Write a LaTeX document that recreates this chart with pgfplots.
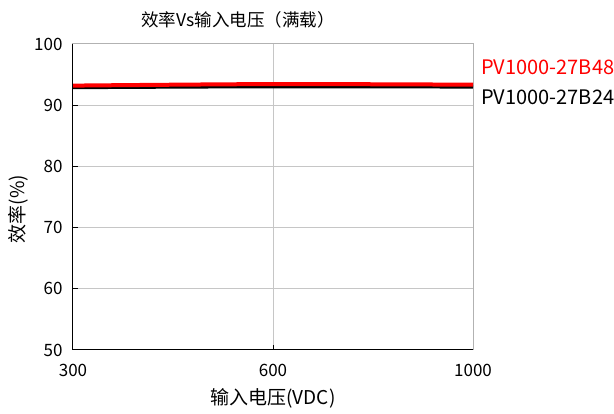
\documentclass[border=0pt]{standalone}
\usepackage{pgfplots}
\pgfplotsset{compat=1.18}
\usepackage{fontspec}
\setmainfont{Noto Sans CJK SC}
\begin{document}
\begin{tikzpicture}[x=1pt,y=1pt]
\path[use as bounding box] (0,0) rectangle (614,414);
\begin{axis}[
  at={(73pt,64pt)}, anchor=south west,
  scale only axis, width=400pt, height=306pt,
  xmin=0, xmax=2, ymin=50, ymax=100,
  xtick={0,1,2}, xticklabels={300,600,1000},
  ytick={50,60,...,100},
  tick pos=left, tick align=inside, major tick length=5pt,
  tick style={black, line width=1pt},
  grid=major, grid style={gray!45, line width=1pt},
  axis line style={gray!60, line width=1pt},
  ticklabel style={font=\fontsize{17}{17}\selectfont},
  xticklabel style={yshift=-11pt},
  yticklabel style={xshift=-7pt},
  /pgf/number format/assume math mode=true,
  clip=false,
]
\addplot[black, line width=3.5pt, smooth] coordinates {(0,92.9) (1,93.05) (2,93.0)};
\addplot[red, line width=4pt, smooth] coordinates {(0,93.2) (1,93.45) (2,93.35)};
\draw[black, line width=1pt] (rel axis cs:0,1) -- (rel axis cs:0,0) -- (rel axis cs:1,0);
\end{axis}
\node[font=\fontsize{17.5}{17.5}\selectfont] at (238,394) {效率Vs输入电压（满载）};
\node[font=\fontsize{19}{19}\selectfont] at (273,16) {输入电压(VDC)};
\node[font=\fontsize{19}{19}\selectfont, rotate=90] at (18,205) {效率(\%)};
\node[font=\fontsize{20}{20}\selectfont, text=red, anchor=base west, inner sep=0pt] at (481,339) {PV1000-27B48};
\node[font=\fontsize{20}{20}\selectfont, text=black, anchor=base west, inner sep=0pt] at (481,309) {PV1000-27B24};
\end{tikzpicture}
\end{document}
